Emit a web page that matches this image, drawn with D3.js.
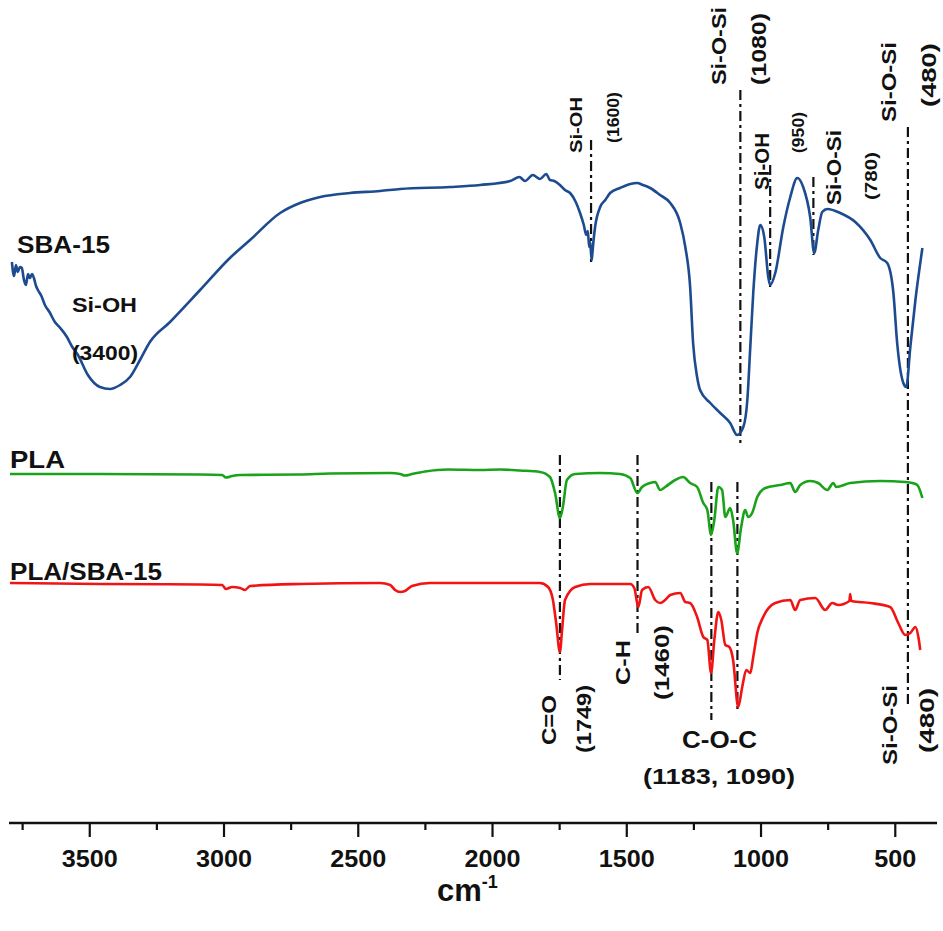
<!DOCTYPE html>
<html>
<head>
<meta charset="utf-8">
<script src="https://cdn.jsdelivr.net/npm/d3@7"></script>
<style>
  html, body { margin: 0; padding: 0; background: #fff; }
  svg { display: block; }
  text { font-family: "Liberation Sans", Arial, sans-serif; font-weight: bold; fill: #111; }
</style>
</head>
<body>
<svg id="chart" width="943" height="931"></svg>
<script>
// FTIR spectra: wavenumber (cm-1) and stacked transmittance (a.u.)
const sbaWave = [3790,3782,3775,3768,3760,3753,3745,3738,3730,3723,3715,3708,3700,3693,3680,3667,3650,3630,3610,3585,3565,3544,3507,3462,3425,3387,3350,3313,3276,3201,3089,2978,2903,2791,2717,2642,2531,2419,2344,2158,2046,1934,1900,1879,1850,1823,1800,1786,1770,1749,1730,1711,1690,1674,1660,1651,1645,1640,1636,1631,1629,1624,1618,1599,1580,1562,1525,1487,1461,1440,1413,1376,1338,1301,1282,1264,1253,1238,1227,1189,1152,1115,1089,1066,1051,1040,1029,1014,1003,988,973,966,947,917,891,865,843,817,802,787,772,753,705,649,593,556,530,507,493,470,459,444,425,399];
const sbaValue = [56.8,55.4,56.5,55.8,56.3,56.2,55.0,54.5,55.6,55.2,55.6,55.2,54.4,54.0,53.4,52.5,51.8,50.8,50.2,49.3,48.3,47.5,45.5,44.3,44.1,44.5,45.3,47.0,48.8,50.8,54.0,57.2,59.0,61.7,62.7,63.3,63.7,63.9,64.1,64.3,64.5,64.9,65.3,64.9,65.5,65.1,65.6,65.0,64.9,64.5,64.0,63.7,62.8,61.7,60.5,59.5,59.9,58.3,58.8,57.0,57.4,58.9,60.3,62.3,63.0,63.7,64.2,64.6,64.7,64.5,64.2,63.5,62.7,60.7,58.3,54.3,48.7,45.3,44.0,42.7,41.7,40.7,39.5,40.3,43.0,48.3,53.7,58.7,60.5,59.3,55.3,54.5,55.7,60.3,63.3,65.2,64.3,61.3,57.7,60.0,61.8,62.1,61.7,60.8,59.0,57.2,56.7,53.7,48.7,44.7,44.3,48.3,53.0,58.2];

const plaWave = [3797,3462,3089,3007,2993,2970,2940,2717,2605,2381,2344,2326,2300,2251,2165,2046,1972,1897,1823,1786,1767,1749,1738,1723,1692,1599,1525,1487,1461,1443,1413,1394,1376,1357,1320,1290,1264,1238,1215,1200,1186,1174,1159,1145,1133,1115,1104,1089,1074,1059,1048,1033,1014,984,928,891,873,854,817,787,753,731,720,668,556,463,437,418,399];
const plaValue = [35.6,35.6,35.55,35.5,35.25,35.4,35.5,35.55,35.65,35.7,35.6,35.45,35.6,35.85,36.05,36.0,36.05,35.95,35.8,35.3,33.7,31.2,32.3,35.0,35.6,35.7,35.6,35.2,33.7,34.3,34.7,34.8,34.0,34.3,35.0,35.3,34.7,34.3,32.7,32.0,29.5,31.0,34.3,34.0,31.3,32.2,31.0,27.7,30.3,32.0,31.3,31.7,33.3,34.2,34.5,34.7,33.8,34.5,34.9,34.7,34.0,34.7,34.3,34.7,34.9,34.8,34.7,34.5,33.2];

const blendWave = [3797,3462,3089,3007,2993,2970,2940,2922,2903,2717,2419,2381,2363,2344,2326,2300,2233,1972,1823,1793,1775,1763,1749,1741,1730,1692,1636,1487,1472,1457,1443,1420,1394,1376,1357,1338,1301,1282,1264,1238,1215,1200,1186,1174,1159,1148,1133,1118,1104,1085,1070,1055,1040,1029,1014,992,947,891,873,854,798,761,735,712,671,668,664,593,519,489,463,444,425,414,407];
const blendValue = [24.7,24.6,24.55,24.5,24.1,24.3,24.2,24.0,24.4,24.6,24.7,24.5,24.0,23.8,23.9,24.4,24.7,24.7,24.7,24.3,23.0,20.7,17.8,20.0,23.0,24.3,24.6,24.6,24.2,22.3,24.0,24.3,23.0,22.7,23.0,23.5,23.7,22.8,22.7,21.3,19.3,19.0,15.7,19.0,21.8,21.0,18.5,18.3,17.0,12.3,14.3,16.0,15.7,17.3,19.7,21.3,22.7,23.0,22.0,23.0,23.2,22.0,22.7,22.5,22.9,23.6,22.9,22.7,22.3,20.7,19.5,19.7,20.3,19.3,18.0];

const seriesNames = ["SBA-15", "PLA", "PLA/SBA-15"];
const seriesColors = ["#1d4b8f", "#1aa31a", "#f01414"];

// Band markers: wavenumber, upper and lower extent (a.u.)
const bandWave = [1633, 1077, 966, 805, 453, 1749, 1460, 1185, 1088];
const bandTop = [69.0, 74.0, 66.5, 65.3, 70.3, 37.5, 37.5, 34.8, 34.8];
const bandBottom = [56.7, 38.3, 54.3, 57.5, 12.3, 15.0, 19.7, 11.0, 11.7];

const tickValues = [3500, 3000, 2500, 2000, 1500, 1000, 500];
const minorTickValues = [3750, 3250, 2750, 2250, 1750, 1250, 750];

const svg = d3.select("#chart");
const x = d3.scaleLinear().domain([3800, 345]).range([9.2, 936.9]);
const y = d3.scaleLinear().domain([0, 83]).range([830, 0]);

// Band marker lines (dash-dot)
const bands = bandWave.map((w, i) => ({ w, top: bandTop[i], bottom: bandBottom[i] }));
svg.append("g").selectAll("line").data(bands).join("line")
  .attr("x1", d => x(d.w)).attr("x2", d => x(d.w))
  .attr("y1", d => y(d.top)).attr("y2", d => y(d.bottom))
  .attr("stroke", "#111").attr("stroke-width", 2.2)
  .attr("stroke-dasharray", "10,4,3,4");

// Spectra
const spectra = [
  sbaWave.map((w, i) => [w, sbaValue[i]]),
  plaWave.map((w, i) => [w, plaValue[i]]),
  blendWave.map((w, i) => [w, blendValue[i]])
];
const line = d3.line().x(d => x(d[0])).y(d => y(d[1])).curve(d3.curveMonotoneX);
svg.append("g").selectAll("path").data(spectra).join("path")
  .attr("d", d => line([...d].sort((a, b) => b[0] - a[0])))
  .attr("fill", "none")
  .attr("stroke", (d, i) => seriesColors[i])
  .attr("stroke-width", 2.6)
  .attr("stroke-linejoin", "round");

// Bottom axis
const axisY = 823;
const gx = svg.append("g").attr("transform", `translate(0,${axisY})`);
gx.append("line").attr("x1", 9).attr("x2", 937).attr("stroke", "#111").attr("stroke-width", 2.6);
gx.selectAll(".major").data(tickValues).join("line").attr("class", "major")
  .attr("x1", d => x(d)).attr("x2", d => x(d)).attr("y1", 0).attr("y2", 14)
  .attr("stroke", "#111").attr("stroke-width", 2.2);
gx.selectAll(".minor").data(minorTickValues).join("line").attr("class", "minor")
  .attr("x1", d => x(d)).attr("x2", d => x(d)).attr("y1", 0).attr("y2", 7)
  .attr("stroke", "#111").attr("stroke-width", 2.2);
gx.selectAll("text").data(tickValues).join("text")
  .attr("x", d => x(d)).attr("y", 44)
  .attr("text-anchor", "middle").attr("font-size", 24)
  .attr("textLength", d => String(d).length * 14)
  .attr("lengthAdjust", "spacingAndGlyphs")
  .text(d => d);

// Axis title
const title = svg.append("text").attr("x", 437).attr("y", 901).attr("font-size", 31);
title.append("tspan").text("cm");
title.append("tspan").attr("dy", -13).attr("font-size", 18).text("-1");

// Horizontal labels
const hLabels = [
  { t: "SBA-15", x: 17, y: 253, fs: 23, len: 93 },
  { t: "Si-OH", x: 72, y: 312, fs: 20, len: 65 },
  { t: "(3400)", x: 72, y: 360, fs: 20, len: 66 },
  { t: "PLA", x: 10, y: 468, fs: 23, len: 55 },
  { t: "PLA/SBA-15", x: 10, y: 580, fs: 23, len: 152 },
  { t: "C-O-C", x: 682, y: 748, fs: 23, len: 75 },
  { t: "(1183, 1090)", x: 643, y: 784, fs: 22, len: 152 }
];
svg.append("g").selectAll("text").data(hLabels).join("text")
  .attr("x", d => d.x).attr("y", d => d.y)
  .attr("font-size", d => d.fs)
  .attr("textLength", d => d.len).attr("lengthAdjust", "spacingAndGlyphs")
  .text(d => d.t);

// Rotated labels: baseline x, starting y (bottom end), length
const vLabels = [
  { t: "Si-OH", x: 582, y: 153, fs: 17, len: 56 },
  { t: "(1600)", x: 619, y: 143, fs: 17, len: 51 },
  { t: "Si-O-Si", x: 726, y: 85, fs: 21, len: 78 },
  { t: "(1080)", x: 766, y: 85, fs: 21, len: 72 },
  { t: "Si-OH", x: 769, y: 190, fs: 20, len: 57 },
  { t: "(950)", x: 804, y: 153, fs: 17, len: 41 },
  { t: "Si-O-Si", x: 841, y: 205, fs: 20, len: 75 },
  { t: "(780)", x: 877, y: 200, fs: 17, len: 48 },
  { t: "Si-O-Si", x: 896, y: 122, fs: 21, len: 80 },
  { t: "(480)", x: 936, y: 107, fs: 21, len: 64 },
  { t: "C=O", x: 556, y: 745, fs: 21, len: 50 },
  { t: "(1749)", x: 591, y: 753, fs: 21, len: 68 },
  { t: "C-H", x: 630, y: 685, fs: 21, len: 45 },
  { t: "(1460)", x: 669, y: 700, fs: 21, len: 75 },
  { t: "Si-O-Si", x: 897, y: 765, fs: 21, len: 80 },
  { t: "(480)", x: 934, y: 753, fs: 21, len: 65 }
];
svg.append("g").selectAll("text").data(vLabels).join("text")
  .attr("transform", d => `translate(${d.x},${d.y}) rotate(-90)`)
  .attr("font-size", d => d.fs)
  .attr("textLength", d => d.len).attr("lengthAdjust", "spacingAndGlyphs")
  .text(d => d.t);
</script>
</body>
</html>
